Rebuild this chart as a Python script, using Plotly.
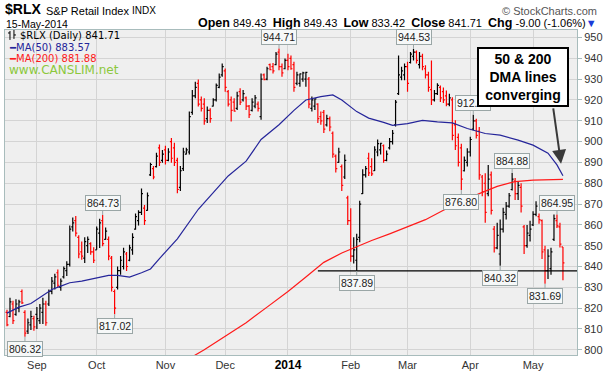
import plotly.graph_objects as go
import pandas as pd

# ---------------- data ----------------
holidays = ['2013-09-02', '2013-11-28', '2013-12-25', '2014-01-01',
            '2014-01-20', '2014-02-17', '2014-04-18']
dates = [d.strftime('%Y-%m-%d') for d in pd.bdate_range('2013-08-19', '2014-05-15')
         if d.strftime('%Y-%m-%d') not in holidays]

opens = [818, 816, 822, 817, 820, 828, 818, 809, 812, 815,
         817, 814, 818, 822, 822, 828, 832, 837, 830, 835, 838, 841, 859, 862, 854, 847, 844, 850, 851, 847,
         848, 856, 862, 853, 853, 844, 828, 830, 838, 840, 846, 843, 848, 858, 862, 866, 868, 867, 884, 887, 888, 897, 891,
         896, 891, 900, 897, 891, 878, 887, 894, 895, 914, 922, 928, 920, 918, 911, 915, 917, 920, 926, 932,
         934, 924, 920, 919, 916, 924, 920, 921, 917, 915, 917, 918, 912, 932, 930, 937, 936, 937, 943, 936, 935,
         939, 940, 937, 928, 928, 930, 930, 930, 916, 917, 918, 912, 914, 908, 911, 904, 893, 890, 888, 883, 873,
         862, 845, 843, 854, 875, 884, 892, 888, 886, 895, 896, 898, 891, 897, 900, 908, 923, 931, 932,
         936, 938, 941, 943, 937, 941, 935, 932, 925, 920, 923, 926, 924, 922, 918, 920, 908, 902, 897, 886, 890,
         895, 906, 910, 905, 883, 880, 875, 884, 858, 849, 846, 858, 865, 869, 877, 881, 875, 878, 859, 850, 855,
         860, 865, 864, 862, 848, 838, 839, 853, 862, 859, 849.43]
highs = [819.2, 825, 823.5, 824.3, 824, 829, 819, 815, 818.7, 816.3,
         820.6, 822, 825, 823.5, 829, 835, 836.5, 838.6, 834.3, 840, 842.5, 859.7, 863.5, 864.3, 855, 852, 854, 854.4, 851.7, 849.2,
         859.2, 862.9, 864.73, 858.7, 854.4, 845, 829, 840, 845, 849, 847, 850.5, 856, 865.5, 867, 877.5, 869.5, 875.6, 889.8, 888.3, 894.6, 898.6, 896,
         898, 896.8, 901.7, 899.4, 892.2, 888.3, 897, 897, 914.4, 924.8, 928.7, 929.8, 921.6, 920.8, 916.8, 916, 920.8, 927.9, 932.7, 937.5,
         935.1, 924.8, 921.6, 920.8, 924, 925.6, 924.8, 921.6, 917.6, 920.8, 922.4, 919.2, 932.7, 932.7, 935.9, 937.5, 937.8, 943, 944.71, 937.5, 939.9,
         942.2, 941.4, 938.3, 933.5, 932.7, 933.5, 933.5, 931, 921.6, 920.8, 918.4, 914.4, 915.2, 912.9, 912, 904.9, 893.8, 897, 889, 893.8, 874,
         868, 854, 855.7, 871.6, 886.7, 888.3, 894.6, 892, 897.8, 901, 899.4, 898.6, 895.7, 901.7, 905.6, 920, 941.4, 935.9, 937.5,
         938.3, 943, 944.53, 943.8, 943, 942.2, 936.7, 933.5, 939, 924.8, 928, 927, 926, 924.5, 923, 921.3, 910.2, 903.9, 899, 892.8, 896.8,
         902.3, 912.87, 911, 907, 884, 884.8, 888.8, 885.6, 859.4, 861, 862.6, 868.2, 871, 875.3, 884.88, 882.5, 881, 880, 860, 860, 862,
         866.6, 871.3, 865.5, 862.6, 850, 848.3, 849, 865, 864.95, 861, 849.43]
lows = [811.3, 815.6, 812.4, 816.3, 818, 822, 806.32, 807.6, 809.5, 809.2,
        810, 812.4, 812.4, 811.6, 821, 826.7, 829, 829.8, 828.3, 834.3, 835.4, 840, 856.8, 854.4, 844, 843.3, 841.7, 846.5, 845.7, 841.7,
        848, 848.9, 849.7, 852.8, 843, 828, 817.02, 829, 836, 838.6, 837.8, 842.5, 845.7, 857.6, 859.7, 864.8, 860, 866.8, 883.5, 881.9, 887.5, 888.3, 889.8,
        889, 890.5, 889.8, 888.3, 875.2, 876.3, 885.9, 893.8, 893.8, 912.9, 920.8, 916.8, 914.4, 908.1, 908.9, 909, 916.8, 919.2, 925.6, 931.1,
        924, 916.8, 909.7, 914.4, 915.2, 917.6, 919.2, 915.2, 911.3, 914.4, 916, 914.4, 910.5, 929.5, 929.5, 934.3, 932.7, 936.7, 934.3, 931.1, 934.8,
        934.3, 934.5, 924, 927.1, 926.4, 928.7, 926.4, 916, 914.4, 915.2, 908.9, 908.1, 904.1, 907.3, 905, 892.2, 885.1, 889.8, 876.3, 882, 860,
        842.3, 841.4, 837.89, 851.7, 874.8, 882.7, 883.5, 883.5, 885.9, 893, 893.8, 889.8, 890.5, 896.2, 898.6, 907.3, 922.4, 929.5, 929.5,
        924, 937.5, 939, 937.5, 935.1, 934.3, 930.3, 924, 917.6, 919.2, 922.4, 919, 918.5, 917, 917, 900.7, 896, 888, 876.8, 885.6, 888,
        892.8, 905.5, 901.5, 881.7, 873.7, 861, 873.7, 865, 846.7, 848.3, 840.32, 856.3, 862.6, 868.2, 876.5, 872, 872, 866, 846, 849, 852,
        859.4, 864.2, 860.5, 843.6, 831.69, 834, 836, 852.3, 858.5, 849.1, 833.42]
closes = [812, 823, 814, 822, 823, 822.5, 808, 813, 816, 811,
          815, 820, 822, 813, 828, 833, 835, 831, 833, 839, 841, 858, 861, 856, 846, 845, 852, 853, 847, 843,
          858, 861, 851, 857, 845, 830, 820, 838, 843, 847, 840, 849, 854, 864, 866, 875, 862, 874, 889, 883, 893, 890, 894,
          891, 895, 892, 890, 877, 886, 895, 896, 912, 922, 926, 918, 916, 910, 915, 911, 920, 927, 931, 936,
          926, 918, 915, 914.6, 922, 919, 923, 917, 913, 919, 921, 916, 930, 929.8, 935, 934.5, 934, 942, 936, 933, 939,
          936, 935, 926, 932, 932.5, 933, 933.2, 918, 920, 920.5, 911, 910, 906, 911, 907, 894, 887, 895, 879, 891, 862,
          845, 848, 853, 870, 884, 887, 885, 884.5, 896, 899, 899.2, 891, 894, 900, 904, 919, 932, 934, 936,
          928, 942, 943, 939, 941, 936, 932, 926, 920, 923, 927, 921, 920, 918, 921, 903, 898, 890, 882, 891, 895,
          901, 910, 903, 884, 876, 866, 882, 867, 849, 855, 858, 866, 869, 874, 882, 875, 879, 869, 850, 856, 858,
          865, 869, 862.5, 847, 838, 845, 847, 863, 859.5, 850.71, 841.71]

ma50_idx = [0, 4, 8, 11, 15, 18, 21, 25, 28, 31, 34, 37, 41, 45, 48, 51, 57, 64, 69, 74, 80, 85, 91, 96,
            100, 105, 109, 112, 117, 121, 126, 129, 134, 139, 144, 149, 154, 160, 165, 171, 176, 181, 184, 186]
ma50_val = [817.6, 820.5, 822.2, 825, 829, 830.6, 832.2, 833, 833.8, 834.6, 835.7, 835.7, 834.9, 837, 838.8,
            843.8, 853.3, 867.5, 875.6, 883.5, 890.6, 901, 908.1, 915, 920, 921.6, 922.4, 920, 914.4, 911.3,
            909.2, 907.8, 908.6, 910.2, 909.5, 909, 906.3, 903.9, 903.1, 900.7, 898.3, 894.4, 888.8, 883.57]
ma200_idx = [60, 66, 73, 80, 87, 94, 100, 106, 112, 117, 122, 128, 134, 140, 146, 152, 158, 164, 170,
             176, 182, 186]
ma200_val = [795, 800, 806.5, 813, 820.5, 828, 835, 842, 846.5, 849.5, 852.5, 855.7, 859, 862.5, 867,
             871, 875, 878.5, 880.8, 881.5, 881.8, 881.88]

month_labels = ['Sep', 'Oct', 'Nov', 'Dec', '2014', 'Feb', 'Mar', 'Apr', 'May']
high_marks = [32, 91, 136, 156, 169, 184]
low_marks = [6, 36, 117, 152, 165, 180]
support_from = 104

# ---------------- figure ----------------
n = len(dates)
assert n == len(opens) == len(highs) == len(lows) == len(closes)

prev = [opens[0]] + closes[:-1]
red_i = [i for i in range(n) if closes[i] < prev[i]]
blk_i = [i for i in range(n) if closes[i] >= prev[i]]

ARIAL = 'Arial, Liberation Sans, sans-serif'
VERD = 'DejaVu Sans, Verdana, sans-serif'
L, R, T, B = 4, 578, 30, 358


def xp(px):
    return (px - L) / (R - L)


def yp(py):
    return (B - py) / (B - T)


def ohlc(idx, color):
    return go.Ohlc(
        x=[dates[i] for i in idx], open=[opens[i] for i in idx], high=[highs[i] for i in idx],
        low=[lows[i] for i in idx], close=[closes[i] for i in idx],
        increasing=dict(line=dict(color=color, width=1.2)),
        decreasing=dict(line=dict(color=color, width=1.2)),
        tickwidth=0.5, showlegend=False, hoverinfo='skip')


fig = go.Figure()
fig.add_trace(ohlc(blk_i, '#000000'))
fig.add_trace(ohlc(red_i, '#ff0000'))
fig.add_trace(go.Scatter(x=[dates[i] for i in ma50_idx], y=ma50_val, mode='lines',
                         line=dict(color='#25259a', width=1.2), showlegend=False, hoverinfo='skip'))
fig.add_trace(go.Scatter(x=[dates[i] for i in ma200_idx], y=ma200_val, mode='lines',
                         line=dict(color='#ff1a1a', width=1.2), showlegend=False, hoverinfo='skip'))

# month ticks
tickvals = []
for i in range(1, n):
    if dates[i][5:7] != dates[i - 1][5:7]:
        tickvals.append(dates[i])
ticktext = [('<b><span style="font-size:12px;color:#000">%s</span></b>' % t) if t == '2014' else t
            for t in month_labels]

annotations = []


def txt(text, x, y, size, color='#000', anchor='left', family=ARIAL):
    annotations.append(dict(text=text, x=xp(x), y=yp(y), xref='paper', yref='paper',
                            xanchor=anchor, yanchor='middle', showarrow=False,
                            font=dict(family=family, size=size, color=color)))


# header
txt('<b>$RLX</b>', 2, 9, 14)
txt('S&P Retail Index', 43, 10.5, 11)
txt('INDX', 129, 10.5, 10)
txt('© StockCharts.com', 600, 10.5, 11, '#555', 'right')
txt('15-May-2014', 3, 23.5, 10.5)
bl = '<b><span style="font-size:12.5px">%s</span></b>'
ohlc_line = (bl % 'Open' + ' %.2f  ' % opens[-1] + bl % 'High' + ' %.2f  ' % highs[-1] +
             bl % 'Low' + ' %.2f  ' % lows[-1] + bl % 'Close' + ' %.2f  ' % closes[-1] +
             bl % 'Chg' + ' %.2f (%.2f%%)' % (closes[-1] - closes[-2], (closes[-1] / closes[-2] - 1) * 100) +
             '<span style="color:#1a3cd8">▼</span>')
txt(ohlc_line, 600, 23, 11, '#000', 'right')

# in-plot legend
txt('$RLX (Daily) %.2f' % closes[-1], 17, 36, 10, '#000', family=VERD)
txt('━MA(50) %.2f' % ma50_val[-1], 6, 47.5, 10, '#25259a', family=VERD)
txt('━MA(200) %.2f' % ma200_val[-1], 6, 58.5, 10, '#ff1a1a', family=VERD)
txt('www.CANSLIM.net', 6, 70.5, 12, '#8cc83c', family=VERD)

# price callouts
lab = dict(xref='x', yref='y', showarrow=True, arrowhead=0, arrowwidth=1, arrowcolor='#9aa6a6',
           ax=0, bgcolor='#f6f8f8', bordercolor='#9aa6a6', borderwidth=1, borderpad=1,
           font=dict(family=ARIAL, size=10.5, color='#222'))
for i in high_marks:
    annotations.append(dict(lab, x=dates[i], y=highs[i], ay=-12, text='%.2f' % highs[i]))
for i in low_marks:
    annotations.append(dict(lab, x=dates[i], y=lows[i], ay=12, text='%.2f' % lows[i]))

# comment box + arrow
annotations.append(dict(text='<b>50 & 200<br>DMA lines<br>converging</b>', x=xp(524), y=yp(77),
                        xref='paper', yref='paper', xanchor='center', yanchor='middle',
                        showarrow=False, bgcolor='#ffffff',
                        bordercolor='#000000', borderwidth=2, width=86, height=54,
                        font=dict(family=ARIAL, size=14, color='#000')))
annotations.append(dict(text='', x=xp(562), y=yp(165), xref='paper', yref='paper', showarrow=True,
                        ax=-8, ay=-57, arrowhead=2, arrowsize=1.4, arrowwidth=2, arrowcolor='#3a3a3a'))

shapes = [
    dict(type='line', xref='x', yref='y', x0=support_from, x1=200, y0=lows[117], y1=lows[117],
         line=dict(color='#000000', width=1.2)),
    # legend OHLC icon
    dict(type='line', xref='paper', yref='paper', x0=xp(9), x1=xp(9), y0=yp(31), y1=yp(40),
         line=dict(color='#000', width=1)),
    dict(type='line', xref='paper', yref='paper', x0=xp(7), x1=xp(9), y0=yp(33), y1=yp(33),
         line=dict(color='#000', width=1)),
    dict(type='line', xref='paper', yref='paper', x0=xp(13), x1=xp(13), y0=yp(30), y1=yp(39),
         line=dict(color='#000', width=1)),
    dict(type='line', xref='paper', yref='paper', x0=xp(13), x1=xp(15), y0=yp(35), y1=yp(35),
         line=dict(color='#000', width=1)),
]

fig.update_layout(
    width=607, height=376, margin=dict(l=L, r=607 - R, t=T, b=376 - B),
    paper_bgcolor='#ffffff', plot_bgcolor='#efefef',
    annotations=annotations, shapes=shapes,
    xaxis=dict(type='category', categoryorder='array', categoryarray=dates,
               range=[-0.67, 190.7], tickvals=tickvals, ticktext=ticktext,
               showgrid=True, gridcolor='#d4d4d4', gridwidth=1, ticks='',
               tickfont=dict(family=ARIAL, size=11, color='#333'),
               showline=True, linecolor='#a8bcbc', mirror=True,
               rangeslider=dict(visible=False), fixedrange=True),
    yaxis=dict(side='right', range=[797.5, 953.6], tick0=800, dtick=10,
               showgrid=True, gridcolor='#d4d4d4', gridwidth=1,
               ticks='outside', ticklen=4, tickcolor='#a8bcbc',
               tickfont=dict(family=ARIAL, size=11, color='#333'),
               showline=True, linecolor='#a8bcbc', mirror=True, zeroline=False),
)

fig.write_html('out.html', config={'displayModeBar': False},
               post_script="document.body.style.margin='0';document.body.style.overflow='hidden';")
